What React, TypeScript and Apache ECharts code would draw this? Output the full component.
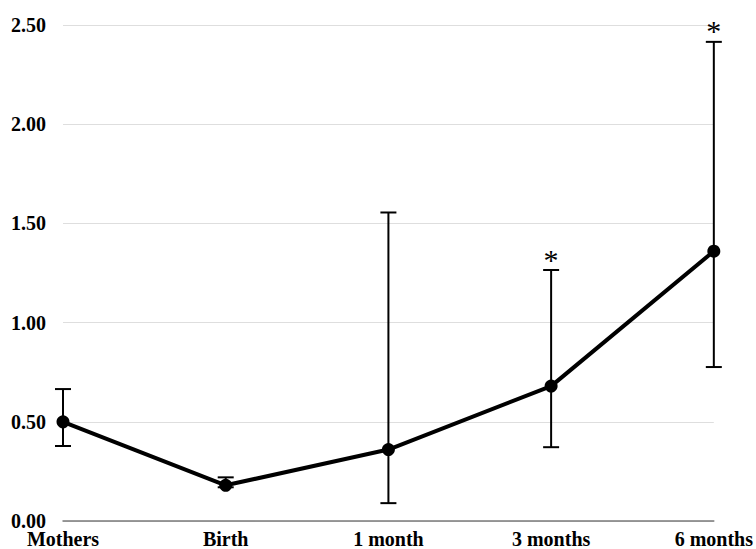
import React, { useEffect, useRef } from "react";
import * as echarts from "echarts";

const categories = ["Mothers", "Birth", "1 month", "3 months", "6 months"];
const means = [0.5, 0.18, 0.36, 0.68, 1.36];
const upper = [0.665, 0.22, 1.555, 1.265, 2.415];
const lower = [0.378, 0.17, 0.09, 0.372, 0.776];
const significant = [false, false, false, true, true];
const yTicks = [0, 0.5, 1.0, 1.5, 2.0, 2.5];

const FONT = '"Liberation Serif", "Times New Roman", serif';

export default function App() {
  const ref = useRef<HTMLDivElement>(null);
  useEffect(() => {
    const chart = echarts.init(ref.current!, null, { renderer: "svg" });
    const errData = categories.map((c, i) => [i, lower[i], upper[i], significant[i] ? 1 : 0]);
    chart.setOption({
      animation: false,
      backgroundColor: "#ffffff",
      grid: { left: 63, right: 41, top: 25, bottom: 28, containLabel: false },
      xAxis: {
        type: "category",
        data: categories,
        boundaryGap: false,
        axisLine: { show: true, lineStyle: { color: "#7a7a7a", width: 1.5 } },
        axisTick: { show: false },
        axisLabel: {
          color: "#000",
          fontFamily: FONT,
          fontWeight: "bold",
          fontSize: 20,
          margin: 8,
          interval: 0,
        },
        splitLine: { show: false },
      },
      yAxis: {
        type: "value",
        min: yTicks[0],
        max: yTicks[yTicks.length - 1],
        interval: 0.5,
        axisLine: { show: false },
        axisTick: { show: false },
        axisLabel: {
          color: "#000",
          fontFamily: FONT,
          fontWeight: "bold",
          fontSize: 20,
          margin: 17,
          formatter: (v: number) => v.toFixed(2),
        },
        splitLine: { show: true, lineStyle: { color: "#dedede", width: 1 } },
      },
      series: [
        {
          type: "custom",
          data: errData,
          z: 1,
          renderItem: (params: any, api: any) => {
            const x = api.value(0);
            const lo = api.coord([x, api.value(1)]);
            const hi = api.coord([x, api.value(2)]);
            const sig = api.value(3);
            const cap = 8;
            const style = { stroke: "#000", lineWidth: 2 };
            const children: any[] = [
              { type: "line", shape: { x1: lo[0], y1: lo[1], x2: hi[0], y2: hi[1] }, style },
              { type: "line", shape: { x1: lo[0] - cap, y1: lo[1], x2: lo[0] + cap, y2: lo[1] }, style },
              { type: "line", shape: { x1: hi[0] - cap, y1: hi[1], x2: hi[0] + cap, y2: hi[1] }, style },
            ];
            if (sig) {
              children.push({
                type: "text",
                style: {
                  text: "*",
                  x: hi[0],
                  y: hi[1] + 4,
                  align: "center",
                  verticalAlign: "bottom",
                  fontSize: 30,
                  fontFamily: FONT,
                  fill: "#000",
                },
              });
            }
            return { type: "group", children };
          },
        },
        {
          type: "line",
          data: means,
          z: 2,
          symbol: "circle",
          symbolSize: 13,
          showAllSymbol: true,
          lineStyle: { color: "#000", width: 4 },
          itemStyle: { color: "#000" },
        },
      ],
    });
    return () => chart.dispose();
  }, []);
  return (
    <div
      ref={ref}
      style={{ position: "fixed", left: 0, top: 0, width: 756, height: 549 }}
    />
  );
}
